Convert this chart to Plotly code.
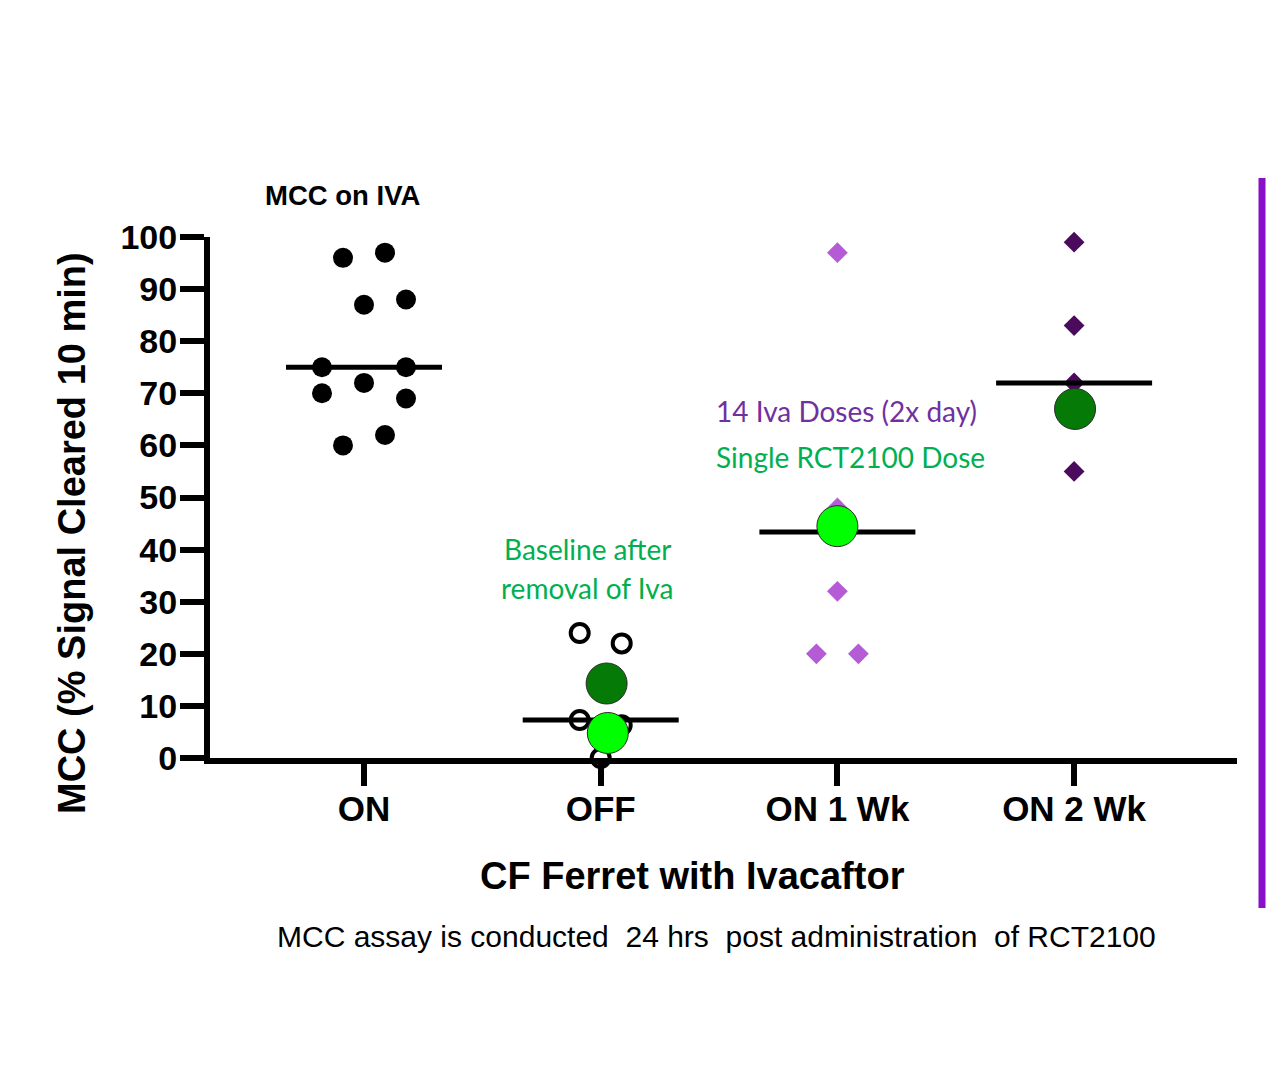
import plotly.graph_objects as go

# ---------------- data ----------------
categories = ["ON", "OFF", "ON 1 Wk", "ON 2 Wk"]

on_values = [96, 97, 87, 88, 75, 75, 72, 70, 69, 60, 62]
off_values = [24, 22, 7.3, 6.3, 0]
on1wk_values = [97, 48, 32, 20, 20]
on2wk_values = [99, 83, 72, 55]

# single RCT2100 dose ferrets
rct_dark_values = [14.3, 67]      # dark green: OFF, ON 2 Wk
rct_light_values = [4.8, 44.5]    # bright green: OFF, ON 1 Wk

center_lines = [75, 7.3, 43.4, 72]

yticks = [0, 10, 20, 30, 40, 50, 60, 70, 80, 90, 100]

# ---------------- layout helpers ----------------
OFFSET = 8                       # page body margin
W, H = 1274 - 2 * OFFSET, 1081 - 2 * OFFSET
L, R, T, B = 202, 1229, 229, 750  # plot area in figure px
UNIT = 236.7                     # px per category
X0 = -(364 - OFFSET - L) / UNIT
X1 = X0 + (R - L) / UNIT
STEP = 21 / UNIT                 # jitter slot width

# jitter slots (layout, not data)
on_slots = [-1, 1, 0, 2, -2, 2, 0, -2, 2, -1, 1]
off_slots = [-1, 1, -1, 1, 0]
on1_slots = [0, 0, 0, -1, 1]
on2_slots = [0, 0, 0, 0]


def px(xp):
    """page x pixel -> paper x"""
    return (xp - OFFSET - L) / (R - L)


def py(yp):
    """page y pixel -> paper y"""
    return (B - (yp - OFFSET)) / (B - T)


fig = go.Figure()


def xs(cat_idx, slots):
    return [cat_idx + s * STEP for s in slots]


fig.add_trace(go.Scatter(
    x=xs(0, on_slots), y=on_values, mode="markers", cliponaxis=False,
    marker=dict(symbol="circle", size=20, color="black"), showlegend=False))
fig.add_trace(go.Scatter(
    x=xs(1, off_slots), y=off_values, mode="markers", cliponaxis=False,
    marker=dict(symbol="circle-open", size=18, color="black", line=dict(width=4)),
    showlegend=False))
fig.add_trace(go.Scatter(
    x=xs(2, on1_slots), y=on1wk_values, mode="markers", cliponaxis=False,
    marker=dict(symbol="diamond", size=16, color="#b55bd6"), showlegend=False))
fig.add_trace(go.Scatter(
    x=xs(3, on2_slots), y=on2wk_values, mode="markers", cliponaxis=False,
    marker=dict(symbol="diamond", size=16, color="#4a0b5c"), showlegend=False))

# center lines
HALF = 78 / UNIT
for i, v in enumerate(center_lines):
    fig.add_trace(go.Scatter(
        x=[i - HALF, i + HALF], y=[v, v], mode="lines", cliponaxis=False,
        line=dict(color="black", width=5), showlegend=False, hoverinfo="skip"))

# RCT2100 circles
fig.add_trace(go.Scatter(
    x=[1 + 0.025, 3 + 0.004], y=rct_dark_values, mode="markers", cliponaxis=False,
    marker=dict(symbol="circle", size=41, color="#067a06",
                line=dict(color="#2a2a2a", width=1)), showlegend=False))
fig.add_trace(go.Scatter(
    x=[1 + 0.03, 2], y=rct_light_values, mode="markers", cliponaxis=False,
    marker=dict(symbol="circle", size=41, color="#00ff00",
                line=dict(color="#2a2a2a", width=1)), showlegend=False))

BOLD = "Liberation Sans"
ANN = "Lato"


def note(text, x, y, family, size, color, weight="normal", angle=0):
    return dict(text=text, x=px(x), y=py(y), xref="paper", yref="paper",
                showarrow=False, xanchor="center", yanchor="middle",
                textangle=angle,
                font=dict(family=family, size=size, color=color, weight=weight))


fig.update_layout(
    width=W, height=H,
    margin=dict(l=L, r=W - R, t=T, b=H - B, pad=0),
    paper_bgcolor="white",
    plot_bgcolor="rgba(0,0,0,0)",
    xaxis=dict(
        range=[X0, X1], tickmode="array", tickvals=list(range(len(categories))),
        ticktext=categories, showgrid=False, zeroline=False,
        showline=True, linecolor="black", linewidth=6,
        ticks="outside", ticklen=22, tickwidth=6, tickcolor="black",
        ticklabelstandoff=-7,
        tickfont=dict(family=BOLD, size=35, color="black", weight="bold"),
    ),
    yaxis=dict(
        range=[0, 100], tickmode="array", tickvals=yticks,
        showgrid=False, zeroline=False,
        showline=True, linecolor="black", linewidth=6,
        ticks="outside", ticklen=24, tickwidth=6, tickcolor="black",
        ticklabelstandoff=-4,
        tickfont=dict(family=BOLD, size=34, color="black", weight="bold"),
    ),
    shapes=[
        dict(type="line", xref="paper", yref="paper",
             x0=px(1262), x1=px(1262), y0=py(178), y1=py(908),
             line=dict(color="#8a0fc9", width=7)),
    ],
    annotations=[
        note("MCC (% Signal Cleared 10 min)", 72, 533, BOLD, 38, "black", "bold", -90),
        note("CF Ferret with Ivacaftor", 692, 876, BOLD, 38, "black", "bold"),
        note("MCC on IVA", 342, 195, BOLD, 27.5, "black", "bold"),
        note("Baseline after", 587, 549, ANN, 28, "#00b050"),
        note("removal of Iva", 587, 588, ANN, 28, "#00b050"),
        note("14 Iva Doses (2x day)", 846, 411, ANN, 28, "#7030a0"),
        note("Single RCT2100 Dose", 850, 457, ANN, 28, "#00b050"),
        note("MCC assay is conducted\u00a0 24 hrs\u00a0 post administration\u00a0 of RCT2100",
             716, 936, BOLD, 30, "black"),
    ],
)

fig.write_html("out.html")
